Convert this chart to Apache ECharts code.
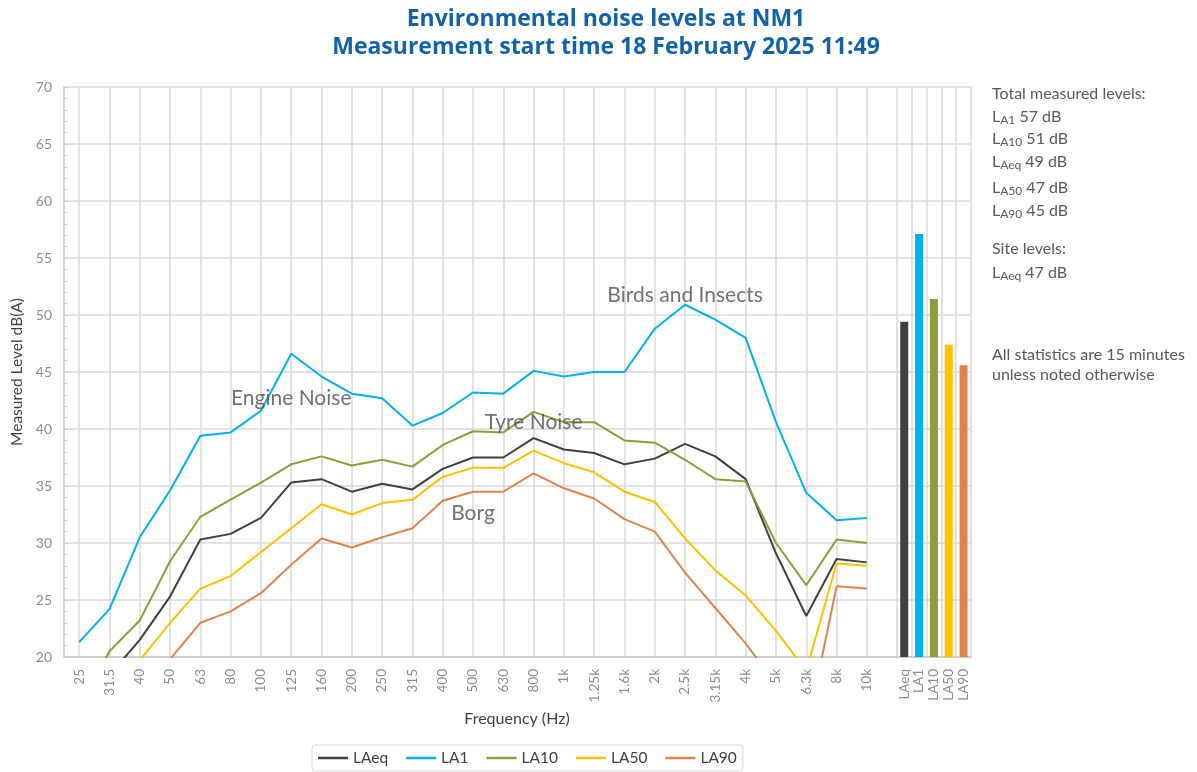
<!DOCTYPE html>
<html>
<head>
<meta charset="utf-8">
<script src="https://cdn.jsdelivr.net/npm/echarts@6/dist/echarts.min.js"></script>
<style>html,body{margin:0;padding:0;background:#fff}#c{width:1197px;height:772px}</style>
</head>
<body>
<div id="c"></div>
<script>
// ---- data ----
const freqs = ['25','31.5','40','50','63','80','100','125','160','200','250','315','400','500','630','800','1k','1.25k','1.6k','2k','2.5k','3.15k','4k','5k','6.3k','8k','10k'];
const LAeq = [16.0, 18.4, 21.5, 25.3, 30.3, 30.8, 32.2, 35.3, 35.6, 34.5, 35.2, 34.7, 36.5, 37.5, 37.5, 39.2, 38.2, 37.9, 36.9, 37.4, 38.7, 37.6, 35.6, 29.1, 23.6, 28.6, 28.3];
const LA1  = [21.3, 24.2, 30.5, 34.6, 39.4, 39.7, 41.6, 46.6, 44.6, 43.1, 42.7, 40.3, 41.4, 43.2, 43.1, 45.1, 44.6, 45.0, 45.0, 48.8, 50.9, 49.6, 48.0, 40.6, 34.4, 32.0, 32.2];
const LA10 = [15.5, 20.5, 23.2, 28.4, 32.3, 33.8, 35.3, 36.9, 37.6, 36.8, 37.3, 36.7, 38.6, 39.8, 39.7, 41.5, 40.6, 40.6, 39.0, 38.8, 37.3, 35.6, 35.4, 30.0, 26.3, 30.3, 30.0];
const LA50 = [15.5, 17.5, 19.7, 23.0, 26.0, 27.1, 29.2, 31.3, 33.4, 32.5, 33.5, 33.8, 35.8, 36.6, 36.6, 38.1, 37.0, 36.2, 34.5, 33.6, 30.4, 27.6, 25.4, 22.3, 18.8, 28.2, 28.0];
const LA90 = [15.0, 16.0, 17.5, 19.8, 23.0, 24.0, 25.6, 28.1, 30.4, 29.6, 30.5, 31.3, 33.7, 34.5, 34.5, 36.1, 34.8, 33.9, 32.1, 31.0, 27.4, 24.3, 21.2, 17.6, 13.3, 26.2, 26.0];
const statLabels = ['', 'LAeq', 'LA1', 'LA10', 'LA50', 'LA90'];
const statValues = [null, 49.4, 57.1, 51.4, 47.4, 45.6];
const annotations = [['125', 42.7, 'Engine Noise'], ['800', 40.6, 'Tyre Noise'], ['500', 32.6, 'Borg'], ['2.5k', 51.7, 'Birds and Insects']];
const totalLevels = [['A1', '57'], ['A10', '51'], ['Aeq', '49'], ['A50', '47'], ['A90', '45']];
const siteLevels = [['Aeq', '47']];
const yTicks = {min: 20, max: 70, interval: 5};

const seriesNames = ['LAeq', 'LA1', 'LA10', 'LA50', 'LA90'];
const seriesData = [LAeq, LA1, LA10, LA50, LA90];
const colors = ['#404040', '#00B0F0', '#8A9F3C', '#FFC000', '#E0834F'];

const FONT = 'Lato, "Open Sans", sans-serif';
const TITLE_FONT = '"Open Sans", Lato, sans-serif';
const gridColor = '#d9d9d9';
const labelGray = '#8c8c8c';
const textGray = '#595959';

const chart = echarts.init(document.getElementById('c'), null, {renderer: 'canvas'});

const lineSeries = seriesNames.map((n, i) => ({
  name: n, type: 'line', xAxisIndex: 0, yAxisIndex: 0,
  data: seriesData[i], symbol: 'none', clip: true,
  lineStyle: {width: 2, color: colors[i]}, itemStyle: {color: colors[i]}, z: 3
}));

const SIDE = 16;
const richStyle = {
  l: {fontSize: SIDE, fontFamily: FONT, fill: textGray},
  s: {fontSize: 12, fontFamily: FONT, fill: textGray, padding: [7, 0, 0, 0]},
  n: {fontSize: SIDE, fontFamily: FONT, fill: textGray}
};
const sideText = [];
sideText.push({type: 'text', left: 992, top: 86, style: {text: 'Total measured levels:', fontSize: SIDE, fontFamily: FONT, fill: textGray}});
const tops = [109, 131, 154, 180, 203];
totalLevels.forEach((t, i) => {
  sideText.push({type: 'text', left: 992, top: tops[i], style: {
    text: '{l|L}{s|' + t[0] + '}{n| ' + t[1] + ' dB}', fontFamily: FONT, fill: textGray, rich: richStyle
  }});
});
sideText.push({type: 'text', left: 992, top: 241, style: {text: 'Site levels:', fontSize: SIDE, fontFamily: FONT, fill: textGray}});
siteLevels.forEach((t, i) => {
  sideText.push({type: 'text', left: 992, top: 265 + i * 22, style: {
    text: '{l|L}{s|' + t[0] + '}{n| ' + t[1] + ' dB}', fontFamily: FONT, fill: textGray, rich: richStyle
  }});
});
sideText.push({type: 'text', left: 992, top: 345, style: {text: 'All statistics are 15 minutes\nunless noted otherwise', fontSize: SIDE, lineHeight: 20, fontFamily: FONT, fill: textGray}});
sideText.push({type: 'text', x: 517, y: 719, style: {text: 'Frequency (Hz)', fontSize: 16, fontFamily: FONT, fill: '#404040', align: 'center', verticalAlign: 'middle'}});

const option = {
  animation: false,
  textStyle: {fontFamily: FONT},
  title: {
    text: 'Environmental noise levels at NM1\nMeasurement start time 18 February 2025 11:49',
    left: 601, top: 0, textAlign: 'center',
    textStyle: {fontSize: 23, fontWeight: 'bold', color: '#1262A9', lineHeight: 28, fontFamily: TITLE_FONT}
  },
  legend: {
    data: seriesNames, left: 312, top: 745,
    icon: 'path://M0,0 L30,0 L30,2.5 L0,2.5 Z',
    itemWidth: 30, itemHeight: 12, itemGap: 18,
    padding: [5, 6, 5, 6],
    borderColor: '#d9d9d9', borderWidth: 1, borderRadius: 3,
    textStyle: {fontSize: 15.5, color: '#404040', fontFamily: FONT}
  },
  grid: [
    {left: 64, top: 87, width: 818, height: 570, outerBoundsMode: 'none', containLabel: false},
    {left: 882, top: 87, width: 89, height: 570, outerBoundsMode: 'none', containLabel: false}
  ],
  xAxis: [
    {
      type: 'category', gridIndex: 0, data: freqs, boundaryGap: true,
      axisLine: {show: true, lineStyle: {color: '#c8c8c8', width: 1.5}},
      axisTick: {show: false},
      axisLabel: {rotate: 90, interval: 0, color: labelGray, fontSize: 13.5, margin: 12, fontFamily: FONT},
      splitLine: {show: true, interval: 0, alignWithLabel: true, lineStyle: {color: gridColor, width: 1.5}}
    },
    {
      type: 'category', gridIndex: 1, data: statLabels, boundaryGap: true,
      axisLine: {show: true, lineStyle: {color: '#c8c8c8', width: 1.5}},
      axisTick: {show: false},
      axisLabel: {rotate: 90, interval: 0, color: labelGray, fontSize: 13.5, margin: 12, fontFamily: FONT},
      splitLine: {show: true, interval: function (idx) { return idx > 0; }, lineStyle: {color: gridColor, width: 1.5}}
    }
  ],
  yAxis: [
    {
      type: 'value', gridIndex: 0, min: yTicks.min, max: yTicks.max, interval: yTicks.interval,
      name: 'Measured Level dB(A)', nameLocation: 'middle', nameGap: 38,
      nameTextStyle: {fontSize: 15.5, color: '#404040', fontFamily: FONT},
      axisLine: {show: true, lineStyle: {color: '#c8c8c8', width: 1.5}},
      axisTick: {show: true, inside: true, length: 4, lineStyle: {color: '#c8c8c8'}},
      minorTick: {show: true, splitNumber: 5, length: 3, lineStyle: {color: '#c8c8c8'}},
      axisLabel: {color: labelGray, fontSize: 14, margin: 12, fontFamily: FONT},
      splitLine: {show: true, lineStyle: {color: gridColor, width: 1.5}}
    },
    {
      type: 'value', gridIndex: 1, min: yTicks.min, max: yTicks.max, interval: yTicks.interval,
      axisLine: {show: false}, axisTick: {show: false}, axisLabel: {show: false},
      splitLine: {show: true, lineStyle: {color: gridColor, width: 1.5}}
    }
  ],
  series: lineSeries.concat([
    {
      name: 'stats', type: 'bar', xAxisIndex: 1, yAxisIndex: 1, barWidth: 8,
      data: statValues.map((v, i) => ({value: v, itemStyle: {color: i > 0 ? colors[i - 1] : 'transparent'}})),
      z: 4
    },
    {
      name: 'annotations', type: 'scatter', xAxisIndex: 0, yAxisIndex: 0,
      data: annotations.map(a => ({value: [a[0], a[1]], name: a[2]})),
      symbol: 'circle', symbolSize: 1, itemStyle: {color: 'transparent'},
      label: {show: true, position: 'inside', formatter: p => p.name, fontSize: 21, color: '#4d4d4d', fontFamily: FONT, textBorderWidth: 0},
      silent: true, z: 5
    }
  ]),
  graphic: sideText
};
chart.setOption(option);
</script>
</body>
</html>
